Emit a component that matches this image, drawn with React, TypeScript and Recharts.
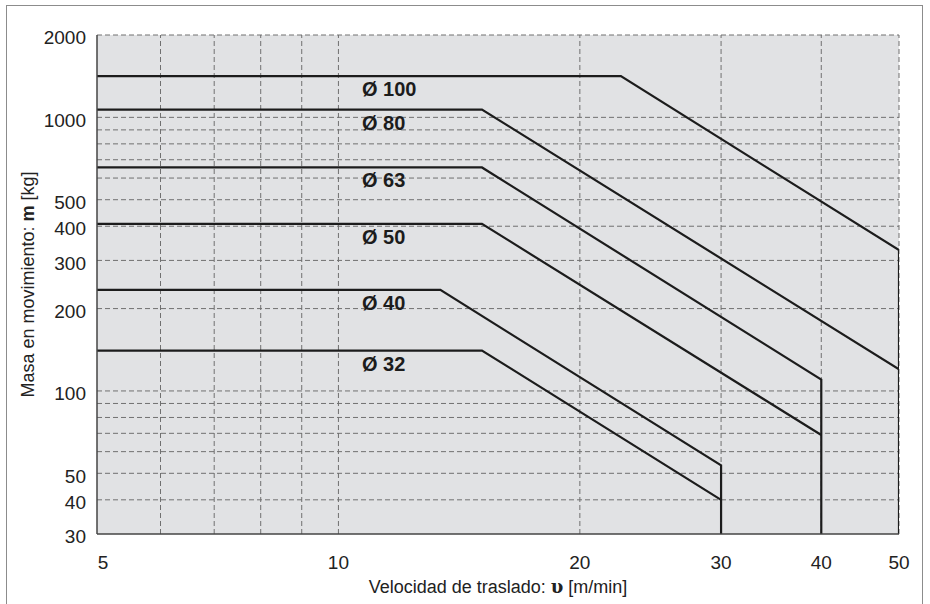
import { ComposedChart, Line, XAxis, YAxis, ReferenceLine, ReferenceArea, ReferenceDot, Label } from 'recharts';

// axis ticks and grid values (log-log chart)
const VELOCITY_TICKS = [5, 10, 20, 30, 40, 50];
const MASS_TICKS = [30, 40, 50, 100, 200, 300, 400, 500, 1000, 2000];
const VELOCITY_GRID = [6, 7, 8, 9, 10, 20, 30, 40, 50];
const MASS_GRID = [40, 50, 60, 70, 80, 90, 100, 200, 300, 400, 500, 600, 700, 800, 900, 1000, 2000];

// curves per cylinder bore: velocity [m/min] vs moving mass [kg]
const D100_V = [5, 22.5, 50, 50];
const D100_M = [1415, 1415, 327, 30];
const D80_V = [5, 15.1, 50];
const D80_M = [1068, 1068, 120];
const D63_V = [5, 15.1, 40, 40];
const D63_M = [656, 656, 110, 30];
const D50_V = [5, 15.1, 40];
const D50_M = [408, 408, 69];
const D40_V = [5, 13.4, 30, 30];
const D40_M = [234, 234, 53.5, 30];
const D32_V = [5, 15.1, 30];
const D32_M = [140.5, 140.5, 40];

const BORES = ['Ø 100', 'Ø 80', 'Ø 63', 'Ø 50', 'Ø 40', 'Ø 32'];
const LABEL_V = 10.7;

const series = [
  [D100_V, D100_M],
  [D80_V, D80_M],
  [D63_V, D63_M],
  [D50_V, D50_M],
  [D40_V, D40_M],
  [D32_V, D32_M],
].map(([v, m], i) => ({
  name: BORES[i],
  data: v.map((x, j) => ({ v: x, m: m[j] })),
}));

const FONT = '"Liberation Sans", Arial, sans-serif';
const GRID = '#707070';
const INK = '#1c1c1c';

const XTick = ({ x, y, payload, index }: any) => (
  <text x={x + (index === 0 ? 6 : 0)} y={y + 28} dy="0.355em" textAnchor="middle" fontSize={19} fontFamily={FONT} fill="#222">
    {payload.value}
  </text>
);

const YTick = ({ x, y, payload }: any) => (
  <text x={x - 11} y={y + 2.5} dy="0.355em" textAnchor="end" fontSize={19} fontFamily={FONT} fill="#222">
    {payload.value}
  </text>
);

const BoreLabel = (name: string) => (props: any) => {
  const { viewBox } = props;
  return (
    <text x={viewBox.x} y={viewBox.y + 20} fontSize={20} fontWeight="bold" fontFamily={FONT} fill={INK}>
      {name}
    </text>
  );
};

const YTitle = (props: any) => {
  const { viewBox } = props;
  const cx = 28;
  const cy = viewBox.y + viewBox.height / 2;
  return (
    <text x={cx} y={cy} transform={`rotate(-90 ${cx} ${cy})`} textAnchor="middle" dy="0.355em" fontSize={18} fontFamily={FONT} fill="#222">
      Masa en movimiento: <tspan fontWeight="bold">m</tspan> [kg]
    </text>
  );
};

const XTitle = (props: any) => {
  const { viewBox } = props;
  const cx = viewBox.x + viewBox.width / 2;
  return (
    <text x={cx} y={587} textAnchor="middle" dy="0.355em" fontSize={18} fontFamily={FONT} fill="#222">
      Velocidad de traslado: <tspan fontWeight="bold" fontFamily='"DejaVu Serif", serif'>υ</tspan> [m/min]
    </text>
  );
};

export default function App() {
  return (
    <div style={{ position: 'absolute', left: 0, top: 0, width: 930, height: 604, background: '#fff', overflow: 'hidden' }}>
      <div style={{ position: 'absolute', left: 6, top: 5, width: 915, height: 700, border: '1px solid #8c8c8c' }} />
      <ComposedChart width={930} height={604} margin={{ top: 35, right: 31, bottom: 10, left: 0 }}>
        <XAxis
          dataKey="v"
          type="number"
          scale="log"
          domain={[5, 50]}
          ticks={VELOCITY_TICKS}
          allowDataOverflow
          height={60}
          tickLine={false}
          tickSize={0}
          tickMargin={0}
          axisLine={{ stroke: '#444', strokeWidth: 1.5 }}
          tick={XTick}
        >
          <Label content={XTitle} />
        </XAxis>
        <YAxis
          dataKey="m"
          type="number"
          scale="log"
          domain={[30, 2000]}
          ticks={MASS_TICKS}
          allowDataOverflow
          width={97}
          tickLine={false}
          tickSize={0}
          tickMargin={0}
          axisLine={{ stroke: '#444', strokeWidth: 1.5 }}
          tick={YTick}
        >
          <Label content={YTitle} />
        </YAxis>
        <ReferenceArea x1={5} x2={50} y1={30} y2={2000} fill="#e1e2e4" fillOpacity={1} stroke="none" />
        {MASS_GRID.map((m) => (
          <ReferenceLine key={`h${m}`} y={m} stroke={GRID} strokeDasharray="5 3" strokeWidth={1} />
        ))}
        {VELOCITY_GRID.map((v) => (
          <ReferenceLine key={`v${v}`} x={v} stroke={GRID} strokeDasharray="5 3" strokeWidth={1} />
        ))}
        {series.map((s) => (
          <Line
            key={s.name}
            data={s.data}
            dataKey="m"
            type="linear"
            stroke={INK}
            strokeWidth={2.2}
            dot={false}
            activeDot={false}
            isAnimationActive={false}
          />
        ))}
        {series.map((s) => (
          <ReferenceDot key={`l${s.name}`} x={LABEL_V} y={s.data[0].m} r={0} fill="none" stroke="none" label={{ content: BoreLabel(s.name) }} />
        ))}
      </ComposedChart>
    </div>
  );
}
